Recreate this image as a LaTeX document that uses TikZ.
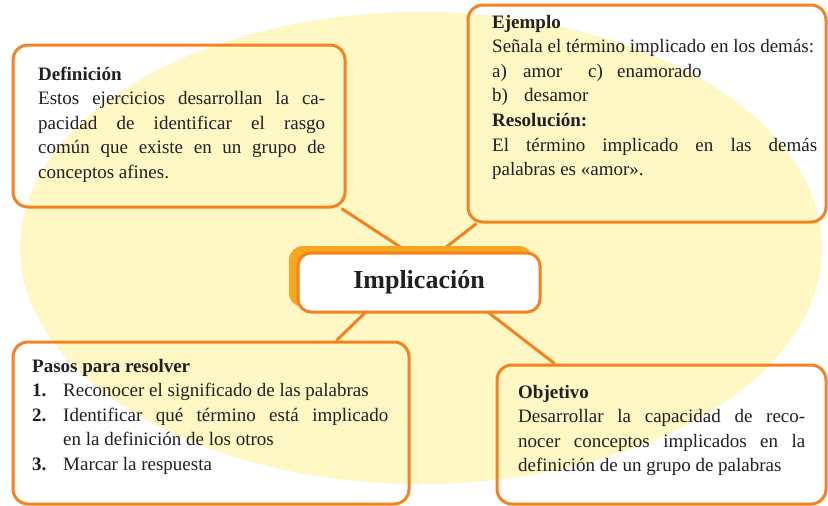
\documentclass[tikz,border=0pt]{standalone}
\usepackage{fontspec}
\setmainfont{Liberation Serif}
\usetikzlibrary{calc}
\definecolor{orng}{RGB}{243,130,32}
\definecolor{shadowcol}{RGB}{248,166,30}
\definecolor{yelbg}{RGB}{255,247,196}
\definecolor{ink}{RGB}{35,31,32}
\newcommand{\lbl}[2]{\leavevmode\hbox to #1{#2\hss}}
\tikzset{
  box/.style={draw=orng, line width=3pt, rounded corners=15pt, inner sep=0pt},
  conn/.style={draw=orng, line width=3pt},
  txt/.style={anchor=base west, inner sep=0pt, text=ink, align=justify,
    font=\fontsize{19}{24.6}\selectfont},
}
\begin{document}
\begin{tikzpicture}[x=1pt,y=-1pt]
\useasboundingbox (0,0) rectangle (828,506);
\fill[yelbg] (421,248) ellipse [x radius=401, y radius=236];
% boxes
\node[box, minimum width=332, minimum height=162] (def) at (179,126) {};
\node[box, minimum width=358, minimum height=217] (ejm) at (647,113.5) {};
\node[box, minimum width=396, minimum height=162] (pas) at (211,423) {};
\node[box, minimum width=329, minimum height=139] (obj) at (661.5,434.5) {};
% connectors (behind central box)
\coordinate (cdef) at (405,250);
\coordinate (cejm) at (440,252);
\coordinate (cpas) at (372,306);
\coordinate (cobj) at (480,306);
\draw[conn] ($(def.south east)+(-5,0)$) -- (cdef);
\draw[conn] ($(ejm.south west)+(10,0)$) -- (cejm);
\draw[conn] ($(pas.north east)+(-74,0)$) -- (cpas);
\draw[conn] ($(obj.north west)+(59,0)$) -- (cobj);
% central box with its offset backing
\fill[shadowcol, rounded corners=14pt] (289,246) rectangle (533,307);
\node[box, fill=white, rounded corners=13pt, minimum width=242, minimum height=59,
  font=\fontsize{26}{30}\selectfont\bfseries, text=ink] (impl) at (419,282.5) {Implicación};
% texts
\node[txt, text width=287] (tdef) at (38,80) {\tolerance=10000\hyphenpenalty=10000
\textbf{Definición}\par
Estos ejercicios desarrollan la ca-\linebreak pacidad de identificar el rasgo\linebreak común que existe en un grupo de\linebreak conceptos afines.};
\node[txt, text width=334] (tejm) at (492,28) {\tolerance=10000\hyphenpenalty=10000
\textbf{Ejemplo}\par
Señala el término implicado en los demás:\par
\lbl{31pt}{a)}\lbl{65pt}{amor}\lbl{29pt}{c)}enamorado\par
\lbl{32pt}{b)}desamor\par
\textbf{Resolución:}\par
\hbox to 325pt{El\hfill término\hfill implicado\hfill en\hfill las\hfill demás}
palabras es «amor».};
\node[txt, text width=356] (tpas) at (32,372) {\tolerance=10000\hyphenpenalty=10000
\textbf{Pasos para resolver}\par
\lbl{31pt}{\textbf{1.}}Reconocer el significado de las palabras\par
\hangindent=31pt\hangafter=1
\lbl{31pt}{\textbf{2.}}Identificar qué término está implicado\linebreak en la definición de los otros\par
\lbl{31pt}{\textbf{3.}}Marcar la respuesta};
\node[txt, text width=287] (tobj) at (518,398) {\tolerance=10000\hyphenpenalty=10000
\textbf{Objetivo}\par
Desarrollar la capacidad de reco-\linebreak nocer conceptos implicados en la\linebreak definición de un grupo de palabras};
\end{tikzpicture}
\end{document}
